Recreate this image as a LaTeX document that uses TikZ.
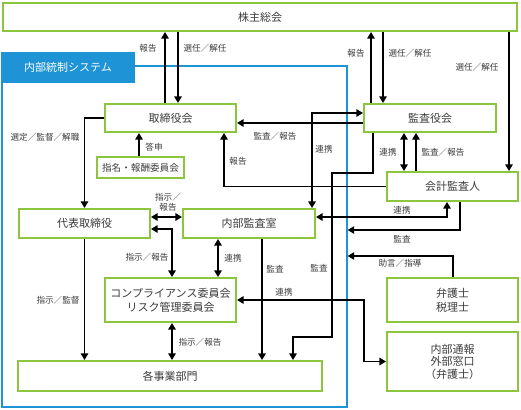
\documentclass[tikz,border=0pt]{standalone}
\usepackage{fontspec}
\setmainfont{Noto Sans CJK JP}
\usetikzlibrary{arrows.meta}
\definecolor{boxgreen}{HTML}{8CC63F}
\definecolor{hdrblue}{HTML}{1E93D6}
\definecolor{txt}{HTML}{3C3C3C}
\begin{document}
\begin{tikzpicture}[x=1pt,y=-1pt,
  box/.style={draw=boxgreen, line width=1.6pt, fill=white, inner sep=0pt, align=center,
    font=\fontsize{11}{14}\selectfont, text=txt},
  lab/.style={font=\fontsize{8.6}{10.5}\selectfont, text=txt, inner sep=0pt, align=center},
  arr/.style={line width=1.2pt, -{Triangle[length=6.5pt,width=7.5pt]}},
  arr2/.style={line width=1.2pt, {Triangle[length=6.5pt,width=7.5pt]}-{Triangle[length=6.5pt,width=7.5pt]}},
]
\useasboundingbox (0,0) rectangle (521,409);

% internal control frame
\node[draw=hdrblue, line width=1.4pt, minimum width=345pt, minimum height=341pt, inner sep=0pt] (frame) at (174.5,236.5) {};
\node[fill=hdrblue, minimum width=134pt, minimum height=31pt, inner sep=0pt, text=white,
  font=\fontsize{11}{13}\selectfont] (hdr) at (68,67.5) {内部統制システム};

% boxes
\node[box, minimum width=514.5pt, minimum height=28.5pt] (kabu) at (260,17) {株主総会};
\node[box, minimum width=131.5pt, minimum height=28.5pt] (tori) at (170.5,118) {取締役会};
\node[box, minimum width=132.5pt, minimum height=28.5pt] (kansa) at (430,118) {監査役会};
\node[box, minimum width=87.5pt, minimum height=21.5pt, font=\fontsize{9.6}{12}\selectfont] (shimei) at (140.5,167.5) {指名・報酬委員会};
\node[box, minimum width=131.5pt, minimum height=29.5pt] (daihyo) at (84.5,223.5) {代表取締役};
\node[box, minimum width=132.5pt, minimum height=29.5pt] (naibu) at (249,223.5) {内部監査室};
\node[box, minimum width=131.5pt, minimum height=29.5pt] (kaikei) at (452.5,186.5) {会計監査人};
\node[box, minimum width=131.5pt, minimum height=44.5pt] (comp) at (170.5,300) {コンプライアンス委員会\\リスク管理委員会};
\node[box, minimum width=304.5pt, minimum height=30.5pt] (kaku) at (170,376) {各事業部門};
\node[box, minimum width=131.5pt, minimum height=44.5pt] (bengo) at (452.5,300) {弁護士\\税理士};
\node[box, minimum width=131.5pt, minimum height=59.5pt, font=\fontsize{11}{12.5}\selectfont] (tsuho) at (452.5,361.5) {内部通報\\外部窓口\\（弁護士）};

% shareholders <-> board
\draw[arr] (tori.north -| 165,0) -- (kabu.south -| 165,0);
\node[lab] (l1) at (148,48) {報告};
\draw[arr] (kabu.south -| 178,0) -- (tori.north -| 178,0);
\node[lab] (l2) at (205,48) {選任／解任};

% shareholders <-> audit board
\draw[arr] (kansa.north -| 371,0) -- (kabu.south -| 371,0);
\node[lab] (l3) at (356,53) {報告};
\draw[arr] (kabu.south -| 383,0) -- (kansa.north -| 383,0);
\node[lab] (l4) at (410,53) {選任／解任};

% shareholders -> accounting auditor
\draw[arr] (kabu.south -| 509,0) -- (kaikei.north -| 509,0);
\node[lab] (l5) at (477,67) {選任／解任};

% board -> representative director
\draw[arr] (tori.west) -| (daihyo.north);
\node[lab] (l6) at (45,137) {選定／監督／解職};

% nomination committee -> board
\draw[arr] (shimei.north -| 139,0) -- (tori.south -| 139,0);
\node[lab] (l7) at (154,147) {答申};

% accounting auditor -> board
\draw[arr] (kaikei.west) -| (tori.south -| 224,0);
\node[lab] (l8) at (238,161) {報告};

% audit board -> board
\draw[arr] (kansa.west |- 0,123) -- (tori.east |- 0,123);
\node[lab] (l9) at (275,136) {監査／報告};

% audit board <-> internal audit
\draw[arr2] (kansa.west |- 0,113) -| (naibu.north -| 312,0);
\node[lab] (l10) at (324,149) {連携};

% audit board -> business units
\draw[arr] (kansa.south -| 373,0) -- (373,173) -- (332,173) -- (332,337) -- (293,337) -- (kaku.north -| 293,0);
\node[lab] (l11) at (319,268) {監査};

% internal audit -> business units
\draw[arr] (naibu.south -| 262,0) -- (kaku.north -| 262,0);
\node[lab] (l12) at (275,269) {監査};

% accounting auditor <-> internal audit
\draw[arr2] (naibu.east |- 0,217) -| (kaikei.south -| 447,0);
\node[lab] (l13) at (402,210) {連携};

% accounting auditor -> internal control system
\draw[arr] (kaikei.south -| 460,0) |- (frame.east |- 0,230);
\node[lab] (l14) at (402,239) {監査};

% lawyers -> internal control system
\draw[arr] (bengo.north -| 453,0) |- (frame.east |- 0,256);
\node[lab] (l15) at (400,263) {助言／指導};

% internal audit <-> compliance
\draw[arr2] (naibu.south -| 218,0) -- (comp.north -| 218,0);
\node[lab] (l16) at (233,258) {連携};

% representative <-> internal audit
\draw[arr2] (daihyo.east |- 0,217) -- (naibu.west |- 0,217);
\node[lab, font=\fontsize{8.6}{10}\selectfont] (l17) at (168,202) {指示／\\報告};

% representative <-> compliance
\draw[arr2] (daihyo.east |- 0,229) -| (comp.north -| 172,0);
\node[lab] (l18) at (147,257) {指示／報告};

% compliance <-> whistleblowing
\draw[arr2] (comp.east) -- (364,300) |- (tsuho.west);
\node[lab] (l19) at (284,292) {連携};

% representative -> business units
\draw[arr] (daihyo.south) -- (kaku.north -| daihyo.south);
\node[lab] (l20) at (58,300) {指示／監督};

% compliance <-> business units
\draw[arr2] (comp.south -| 172,0) -- (kaku.north -| 172,0);
\node[lab] (l21) at (200,342) {指示／報告};

% audit board <-> accounting auditor
\draw[arr2] (kansa.south -| 404,0) -- (kaikei.north -| 404,0);
\node[lab] (l22) at (388,152) {連携};
\draw[arr] (kaikei.north -| 416,0) -- (kansa.south -| 416,0);
\node[lab] (l23) at (443,152) {監査／報告};
\end{tikzpicture}
\end{document}
